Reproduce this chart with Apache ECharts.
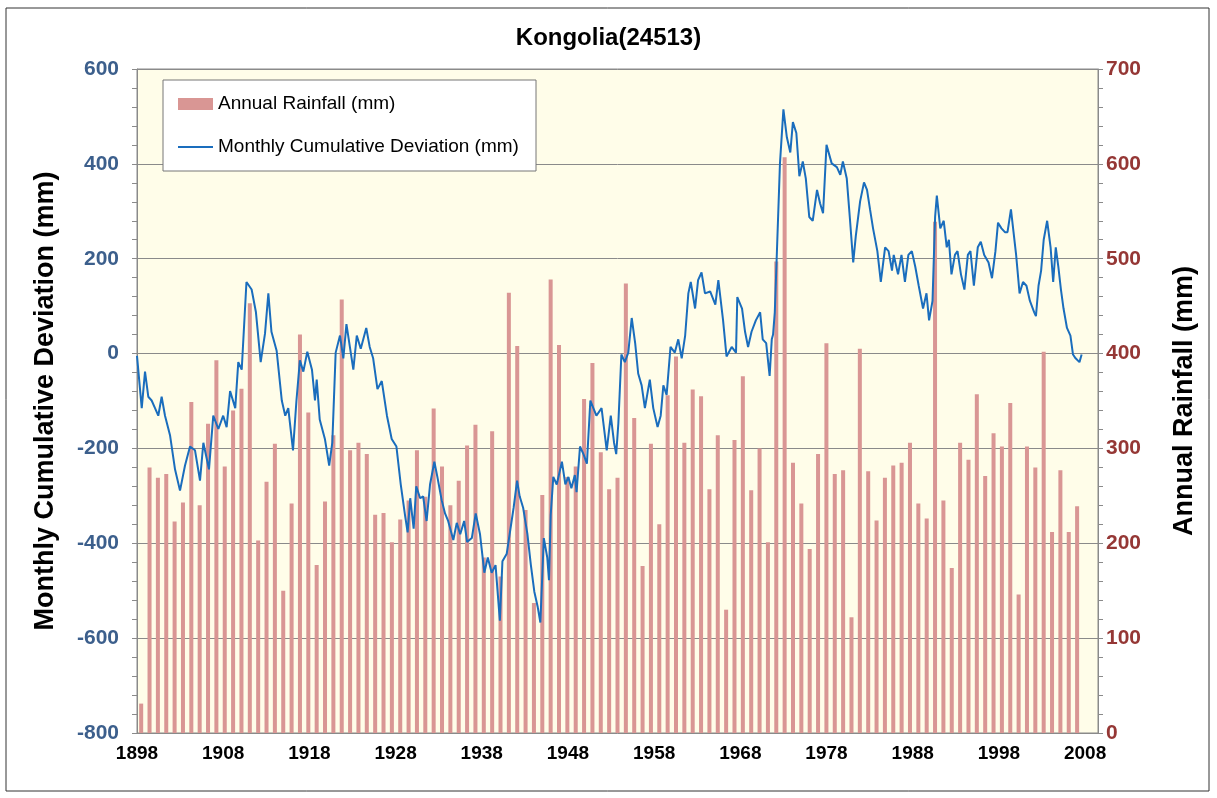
<!DOCTYPE html>
<html>
<head>
<meta charset="utf-8">
<script src="https://cdn.jsdelivr.net/npm/echarts@6/dist/echarts.min.js"></script>
<style>
  body { margin: 0; background: #fff; }
  #main { width: 1217px; height: 798px; }
</style>
</head>
<body>
<div id="main"></div>
<script>
// years on the bar axis, one slot per year
var firstYear = 1898;
var slotCount = 115;

// annual rainfall (mm), 1898 ... 2010
var rainfall = [
  31, 280, 269, 273, 223, 243, 349, 240, 326, 393, 281, 340, 363, 453, 203, 265, 305, 150, 242,
  420, 338, 177, 244, 314, 457, 298, 306, 294, 230, 232, 201, 225, 245, 298, 249, 342, 281,
  240, 266, 303, 325, 185, 318, 165, 464, 408, 235, 137, 251, 478, 409, 270, 281, 352, 390, 296, 257, 269,
  474, 332, 176, 305, 220, 356, 397, 306, 362, 355, 257, 314, 130, 309, 376, 256, 300, 201,
  497, 607, 285, 242, 194, 294, 411, 273, 277, 122, 405, 276, 224, 269, 282, 285, 306, 242, 226,
  539, 245, 174, 306, 288, 357, 271, 316, 302, 348, 146, 302, 280, 402, 212, 277, 212, 239
];

// monthly cumulative deviation (mm)
var devYears = [
  1898.0, 1898.55, 1898.93, 1899.31, 1899.7, 1900.09, 1900.47, 1900.86, 1901.25, 1901.83,
  1902.41, 1902.99, 1903.57, 1904.15, 1904.73, 1905.31, 1905.7, 1906.35, 1906.85, 1907.44,
  1908.0, 1908.4, 1908.8, 1909.4, 1909.75, 1910.15, 1910.7, 1911.3, 1911.8, 1912.35,
  1912.85, 1913.24, 1913.6, 1914.2, 1914.8, 1915.2, 1915.55, 1916.1, 1916.5, 1916.9,
  1917.3, 1917.76, 1918.3, 1918.65, 1918.85, 1919.2, 1919.8, 1920.3, 1920.66, 1921.05,
  1921.55, 1921.94, 1922.3, 1922.7, 1923.1, 1923.5, 1923.96, 1924.6, 1925.0, 1925.4,
  1925.9, 1926.4, 1927.0, 1927.55, 1928.1, 1928.6, 1929.1, 1929.4, 1929.7, 1930.1,
  1930.4, 1930.85, 1931.2, 1931.6, 1932.0, 1932.5, 1932.85, 1933.35, 1933.74, 1934.1,
  1934.7, 1935.1, 1935.5, 1935.96, 1936.3, 1936.85, 1937.3, 1937.8, 1938.3, 1938.7,
  1939.15, 1939.6, 1940.1, 1940.4, 1940.9, 1941.3, 1941.7, 1942.1, 1942.4, 1942.8,
  1943.3, 1943.7, 1944.1, 1944.5, 1944.8, 1945.2, 1945.6, 1945.8, 1946.0, 1946.3,
  1946.7, 1947.3, 1947.7, 1948.05, 1948.4, 1948.8, 1949.0, 1949.4, 1949.8, 1950.2,
  1950.6, 1950.95, 1951.3, 1951.9, 1952.5, 1952.97, 1953.35, 1953.6, 1953.85, 1954.2,
  1954.6, 1955.0, 1955.4, 1955.8, 1956.15, 1956.55, 1956.93, 1957.5, 1957.9, 1958.4,
  1958.76, 1959.07, 1959.45, 1959.9, 1960.4, 1960.8, 1961.2, 1961.6, 1961.97, 1962.25,
  1962.75, 1963.1, 1963.5, 1963.9, 1964.5, 1965.1, 1965.45, 1966.0, 1966.4, 1967.0,
  1967.5, 1967.65, 1968.2, 1968.55, 1968.9, 1969.3, 1969.8, 1970.3, 1970.6, 1971.0,
  1971.4, 1971.65, 1971.8, 1972.0, 1972.2, 1972.6, 1973.0, 1973.4, 1973.8, 1974.1,
  1974.5, 1974.85, 1975.25, 1975.6, 1976.0, 1976.4, 1976.9, 1977.25, 1977.6, 1978.0,
  1978.6, 1979.2, 1979.6, 1979.9, 1980.35, 1980.7, 1981.1, 1981.4, 1981.9, 1982.35,
  1982.7, 1983.05, 1983.4, 1983.9, 1984.3, 1984.8, 1985.2, 1985.6, 1985.8, 1986.3,
  1986.7, 1987.1, 1987.5, 1987.9, 1988.3, 1988.7, 1989.2, 1989.6, 1989.9, 1990.3,
  1990.6, 1990.8, 1991.2, 1991.6, 1991.95, 1992.2, 1992.5, 1992.9, 1993.2, 1993.6,
  1994.0, 1994.4, 1994.7, 1995.1, 1995.55, 1995.9, 1996.3, 1996.8, 1997.2, 1997.6,
  1997.9, 1998.3, 1998.7, 1999.0, 1999.4, 1999.7, 2000.0, 2000.4, 2000.8, 2001.2,
  2001.6, 2002.1, 2002.3, 2002.6, 2002.9, 2003.2, 2003.6, 2004.0, 2004.3, 2004.6,
  2004.9, 2005.2, 2005.5, 2005.9, 2006.3, 2006.6, 2006.9, 2007.1, 2007.35, 2007.6
];
var devValues = [
  -5, -115, -38, -91, -99, -115, -131, -91, -131, -172,
  -244, -289, -236, -196, -204, -268, -188, -244, -131, -159,
  -131, -155, -79, -115, -18, -34, 151, 135, 87, -18,
  42, 127, 46, 6, -99, -131, -115, -204, -99, -14,
  -38, 4, -34, -99, -55, -139, -180, -236, -188, 2,
  38, -10, 62, 14, -34, 38, 10, 54, 14, -10,
  -75, -58, -131, -180, -196, -276, -341, -377, -305, -369,
  -280, -305, -301, -353, -276, -228, -260, -309, -337, -353,
  -393, -357, -381, -353, -397, -389, -337, -381, -462, -430,
  -462, -446, -563, -438, -422, -373, -325, -268, -301, -325,
  -381, -446, -502, -535, -567, -389, -430, -478, -341, -260,
  -276, -228, -276, -260, -284, -256, -292, -196, -212, -232,
  -99, -115, -131, -115, -204, -131, -188, -212, -147, -2,
  -18, 2, 75, 22, -42, -67, -115, -55, -115, -155,
  -131, -67, -87, 14, 2, 30, -10, 38, 127, 151,
  95, 155, 171, 127, 131, 103, 155, 70, -6, 14,
  2, 119, 95, 46, 14, 46, 70, 87, 30, 22,
  -47, 30, 40, 87, 191, 401, 515, 456, 424, 488,
  465, 374, 405, 369, 288, 280, 345, 317, 296, 440,
  401, 393, 377, 405, 369, 288, 192, 248, 321, 361,
  345, 304, 264, 216, 151, 224, 216, 175, 208, 167,
  208, 151, 208, 216, 183, 143, 95, 127, 70, 111,
  288, 333, 264, 280, 224, 240, 167, 208, 216, 167,
  135, 208, 216, 143, 224, 236, 208, 192, 159, 216,
  276, 264, 256, 256, 304, 256, 208, 127, 151, 143,
  111, 87, 79, 143, 175, 240, 280, 224, 151, 224,
  183, 135, 95, 54, 38, -2, -10, -6, -18, -2
];

var barCategories = [];
for (var i = 0; i < slotCount; i++) barCategories.push(String(firstYear + i));

var barData = rainfall.slice();
while (barData.length < slotCount) barData.push(null);

var lineData = [];
for (var j = 0; j < devYears.length; j++) {
  lineData.push([devYears[j] - firstYear, devValues[j]]);
}

var axisGray = '#8a8a8a';
var lineBlue = '#1A6DBD';
var fontFam = '"Liberation Sans", Arial, sans-serif';

var chart = echarts.init(document.getElementById('main'));
chart.setOption({
  animation: false,
  backgroundColor: '#ffffff',
  title: {
    text: 'Kongolia(24513)',
    left: 'center',
    top: 21,
    textStyle: { fontFamily: fontFam, fontSize: 24, fontWeight: 'bold', color: '#000' }
  },
  legend: {
    orient: 'vertical',
    left: 173,
    top: 89,
    itemWidth: 35,
    itemHeight: 12,
    itemGap: 23,
    z: 20,
    textStyle: { fontFamily: fontFam, fontSize: 19, color: '#000', lineHeight: 20 },
    data: [
      { name: 'Annual Rainfall (mm)', icon: 'rect' },
      { name: 'Monthly Cumulative Deviation (mm)', icon: 'path://M0,0H35V2H0Z' }
    ]
  },
  graphic: [
    {
      type: 'rect', z: 10,
      shape: { x: 163, y: 80, width: 373, height: 91 },
      style: { fill: '#ffffff', stroke: '#777', lineWidth: 1 }
    },
    {
      type: 'rect', z: 0,
      shape: { x: 6, y: 8, width: 1203, height: 783 },
      style: { fill: 'none', stroke: '#333', lineWidth: 1 }
    }
  ],
  grid: {
    left: 137, right: 119, top: 69, bottom: 65,
    show: true,
    backgroundColor: '#FFFDE9',
    borderColor: axisGray,
    borderWidth: 1
  },
  xAxis: [
    {
      type: 'category',
      data: barCategories,
      boundaryGap: true,
      axisLine: { lineStyle: { color: axisGray } },
      axisTick: { interval: 4, length: 6, lineStyle: { color: axisGray } },
      axisLabel: { show: false },
      splitLine: { show: false }
    },
    {
      type: 'value',
      min: 0,
      max: 111.5,
      interval: 10,
      position: 'bottom',
      axisLine: { show: false },
      axisTick: { show: false },
      splitLine: { show: false },
      axisLabel: {
        margin: 11,
        fontFamily: fontFam, fontSize: 19, fontWeight: 'bold', color: '#000',
        formatter: function (v) { return v % 10 === 0 ? String(firstYear + v) : ''; }
      }
    }
  ],
  yAxis: [
    {
      type: 'value',
      min: -800, max: 600, interval: 200,
      position: 'left',
      name: 'Monthly Cumulative Deviation (mm)',
      nameLocation: 'middle',
      nameGap: 78,
      nameTextStyle: { fontFamily: fontFam, fontSize: 27, fontWeight: 'bold', color: '#000' },
      axisLine: { show: true, lineStyle: { color: axisGray } },
      axisTick: { show: true, length: 5, lineStyle: { color: axisGray } },
      minorTick: { show: true, splitNumber: 5, length: 5, lineStyle: { color: axisGray } },
      splitLine: { show: true, lineStyle: { color: axisGray, width: 1 } },
      axisLabel: { margin: 18, fontFamily: fontFam, fontSize: 21, fontWeight: 'bold', color: '#3C5F8C' }
    },
    {
      type: 'value',
      min: 0, max: 700, interval: 100,
      position: 'right',
      name: 'Annual Rainfall (mm)',
      nameLocation: 'middle',
      nameGap: 73,
      nameTextStyle: { fontFamily: fontFam, fontSize: 27, fontWeight: 'bold', color: '#000' },
      axisLine: { show: true, lineStyle: { color: axisGray } },
      axisTick: { show: true, length: 5, lineStyle: { color: axisGray } },
      minorTick: { show: true, splitNumber: 5, length: 5, lineStyle: { color: axisGray } },
      splitLine: { show: false },
      axisLabel: { margin: 8, fontFamily: fontFam, fontSize: 21, fontWeight: 'bold', color: '#953735' }
    }
  ],
  series: [
    {
      name: 'Annual Rainfall (mm)',
      type: 'bar',
      xAxisIndex: 0,
      yAxisIndex: 1,
      barWidth: '48%',
      itemStyle: { color: '#D99694' },
      data: barData
    },
    {
      name: 'Monthly Cumulative Deviation (mm)',
      type: 'line',
      xAxisIndex: 1,
      yAxisIndex: 0,
      symbol: 'none',
      z: 3,
      lineStyle: { color: lineBlue, width: 2 },
      itemStyle: { color: lineBlue },
      data: lineData
    }
  ]
});
</script>
</body>
</html>
